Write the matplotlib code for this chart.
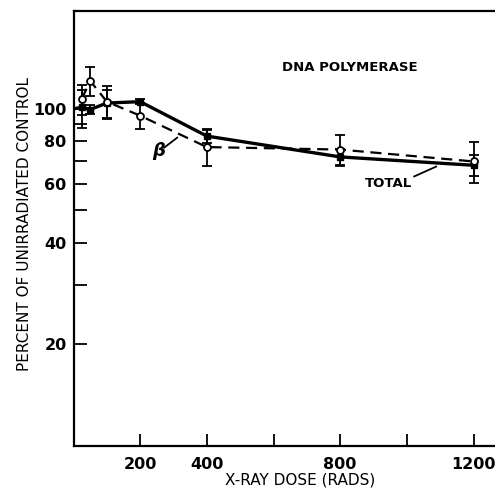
import matplotlib
matplotlib.use("Agg")
import matplotlib.pyplot as plt
from matplotlib.ticker import FixedLocator, FixedFormatter, NullLocator

# dose (rads) and percent of unirradiated control
total_dose = [0, 25, 50, 100, 200, 400, 800, 1200]
total_val = [100, 101, 99.5, 104, 105, 83, 72, 68]
total_err = [0, 13, 3, 10, 2, 4, 4, 5]

beta_dose = [25, 50, 100, 200, 400, 800, 1200]
beta_val = [107, 121, 105, 95.4, 77, 75.7, 69.8]
beta_err = [11, 12, 11.5, 8.5, 9.5, 8, 9.7]

xticks = [200, 400, 600, 800, 1000, 1200]
xlabels = ["200", "400", "", "800", "", "1200"]
yticks = [20, 30, 40, 50, 60, 70, 80, 90, 100]
ylabels = ["20", "", "40", "", "60", "", "80", "", "100"]

plt.rcParams["font.family"] = ["DejaVu Sans"]

fig = plt.figure(figsize=(4.95, 4.98), dpi=100)
ax = fig.add_axes([73.5 / 495, 52 / 498, 450 / 495, 435 / 498])

ax.set_yscale("log")
ax.set_xlim(0, 1350)
ax.set_ylim(10, 195)

# solid line: total
ax.plot(total_dose, total_val, color="black", lw=2.4, zorder=3)
ax.errorbar(total_dose[1:], total_val[1:], yerr=total_err[1:], fmt="s",
            color="black", ms=5, ecolor="black", elinewidth=1.3,
            capsize=3.5, capthick=1.3, zorder=4)

# dashed line: beta
ax.plot(beta_dose, beta_val, color="black", lw=1.6, ls=(0, (5, 3)), zorder=3)
ax.errorbar(beta_dose, beta_val, yerr=beta_err, fmt="o", color="black",
            mfc="white", mec="black", mew=1.3, ms=5, ecolor="black",
            elinewidth=1.3, capsize=3.5, capthick=1.3, zorder=5)

# annotations
ax.text(830, 133, "DNA POLYMERASE", fontsize=9.5, fontweight="bold",
        ha="center", va="center")
ax.text(944, 60.1, "TOTAL", fontsize=9.5, fontweight="bold",
        ha="center", va="center")
ax.plot([1022, 1088], [63.0, 67.4], color="black", lw=1.3)
ax.text(255, 75, "β", fontsize=13, fontweight="bold", fontstyle="italic",
        ha="center", va="center")
ax.plot([272, 311], [76.7, 82.1], color="black", lw=1.3)

# ticks
ax.xaxis.set_major_locator(FixedLocator(xticks))
ax.xaxis.set_major_formatter(FixedFormatter(xlabels))
ax.xaxis.set_minor_locator(NullLocator())
ax.yaxis.set_major_locator(FixedLocator(yticks))
ax.yaxis.set_major_formatter(FixedFormatter(ylabels))
ax.yaxis.set_minor_locator(NullLocator())
ax.tick_params(direction="in", length=9, width=1.3, labelsize=11.5, pad=5)
ax.tick_params(axis="x", pad=8)
for lab in ax.get_xticklabels() + ax.get_yticklabels():
    lab.set_fontweight("bold")

for s in ax.spines.values():
    s.set_linewidth(1.6)

fig.text(300 / 495, 1 - 480 / 498, "X-RAY DOSE (RADS)", fontsize=11,
         ha="center", va="center")
fig.text(25 / 495, 1 - 224 / 498, "PERCENT OF UNIRRADIATED CONTROL",
         fontsize=11, rotation=90, ha="center", va="center")

fig.savefig("out.png", dpi=100)
